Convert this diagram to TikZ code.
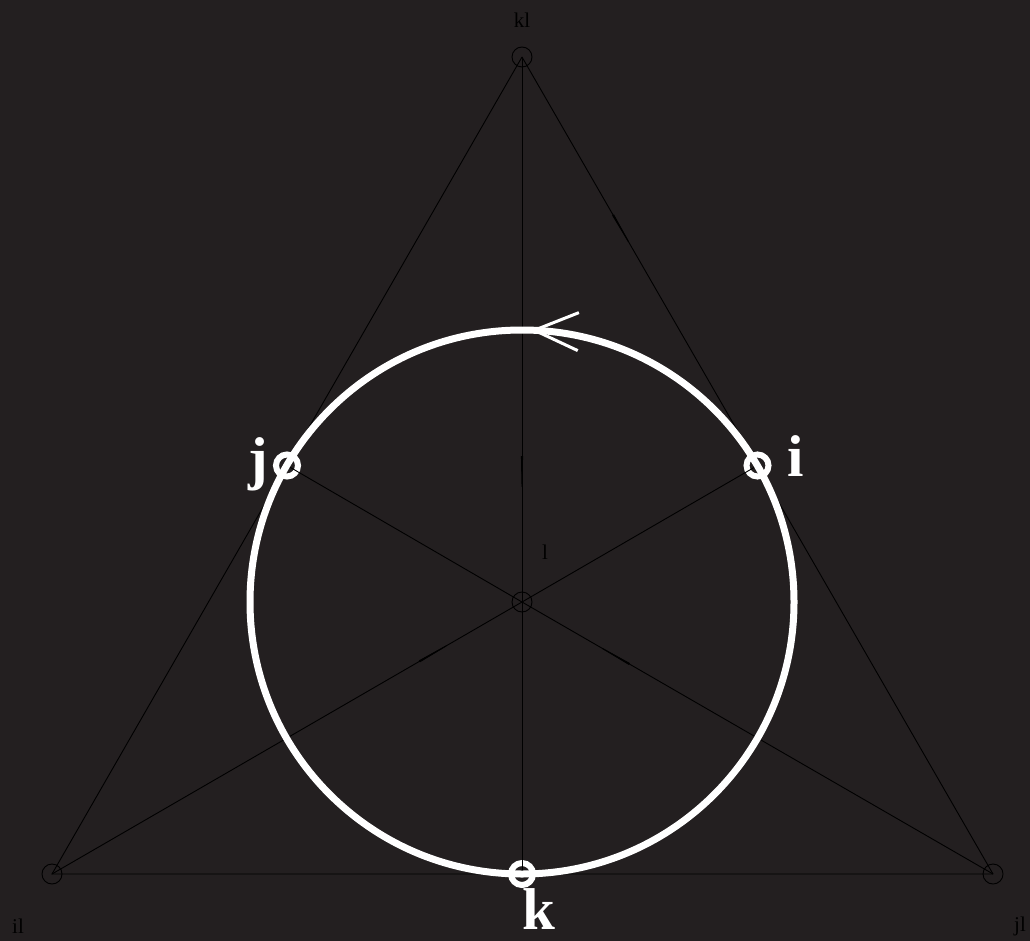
\documentclass[tikz,border=0pt]{standalone}
\usepackage{fontspec}
\setmainfont{Liberation Serif}
\usetikzlibrary{arrows.meta,decorations.markings}
\definecolor{bg}{RGB}{35,31,32}

\begin{document}
\begin{tikzpicture}[x=1pt, y=-1pt,
                    vert/.style={circle, draw=black, line width=0.9pt, minimum size=20pt, inner sep=0pt},
                    mid/.style={circle, draw=white, line width=6pt, minimum size=22pt, inner sep=0pt},
                    small/.style={font=\fontsize{21}{21}\selectfont, text=black},
                    big/.style={font=\fontsize{59}{59}\selectfont\bfseries, text=white, inner sep=0pt},
                    edge/.style={draw=black, line width=0.9pt},
                    midtip/.style={postaction={decorate, decoration={markings,
                      mark=at position #1 with {\arrow[black]{Stealth[length=75pt, width=3pt]}}}}}]
\fill[bg] (0,0) rectangle (1030,941);
% corners and centre
\node[vert] (kl) at (522,57) {};
\node[vert] (il) at (52,874) {};
\node[vert] (jl) at (993,874) {};
\node[vert] (l) at (522,602) {};
% midpoints of the sides
\node[mid] (i) at (757.5,465.5) {};
\node[mid] (j) at (287,465.5) {};
\node[mid] (k) at (522,874) {};
% triangle
\draw[edge] (kl.center) -- (il.center) -- (jl.center);
\draw[edge, midtip=0.25] (kl.center) -- (jl.center);
% lines through the centre
\draw[edge, midtip=0.83] (kl.center) -- (l.center);
\draw[edge] (l.center) -- (k.center);
\draw[edge, midtip=0.88] (il.center) -- (l.center);
\draw[edge] (l.center) -- (i.center);
\draw[edge, midtip=0.87] (jl.center) -- (l.center);
\draw[edge] (l.center) -- (j.center);
% incircle
\draw[white, line width=7pt, postaction={decorate, decoration={markings,
  mark=at position 0.755 with {\arrowreversed[white]{Straight Barb[length=44pt, width=38pt, line width=3pt]}}}}]
  (l.center) circle[radius=272];
% labels
\node[small] (klt) at (522,20) {kl};
\node[small] (lt) at (545,552) {l};
\node[small] (ilt) at (18,926) {il};
\node[small] (jlt) at (1020,926) {jl};
\node[big, anchor=base] (it) at (796,476) {i};
\node[big, anchor=base] (jt) at (258,478) {j};
\node[big, anchor=base] (kt) at (539,929) {k};
\end{tikzpicture}
\end{document}
